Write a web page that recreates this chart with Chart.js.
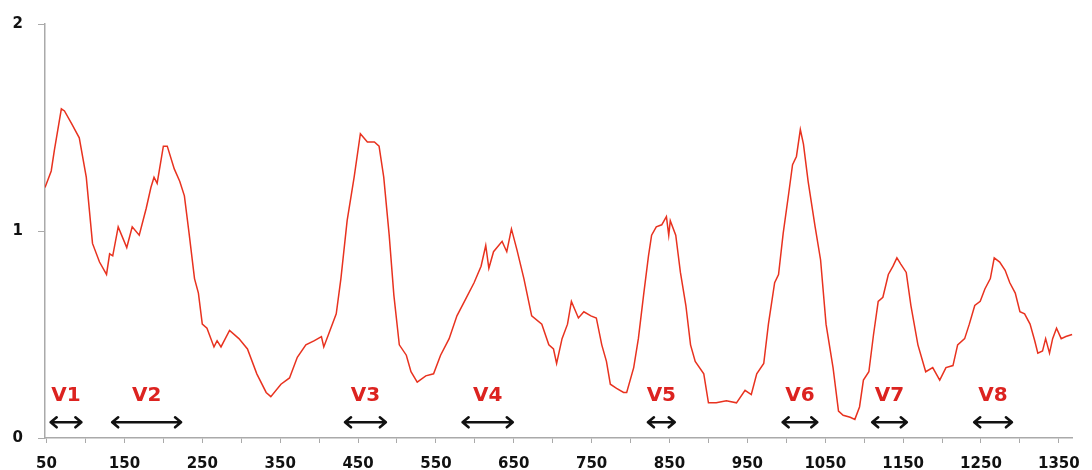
<!DOCTYPE html>
<html>
<head>
<meta charset="utf-8">
<script src="https://cdn.jsdelivr.net/npm/chart.js@4"></script>
<style>
body{margin:0;background:#fff}
#wrap{width:1092px;height:470px}
</style>
</head>
<body>
<div id="wrap"><canvas id="chart1"></canvas></div>
<script>
/* DATA */
const xs=[48,56,60,69,73,82,92,101,109,118,127,131,135,142,153,160,169,178,184,188,192,200,205,214,221,227,233,240,245,250,256,265,269,274,285,297,308,320,332,338,351,362,372,383,394,403,406,413,422,428,436,445,453,462,471,477,483,490,496,503,512,518,526,537,547,556,567,577,588,599,608,614,618,624,635,641,647,654,663,673,686,695,701,705,712,719,724,733,740,749,756,763,769,774,782,791,795,804,810,817,823,827,833,840,846,849,851,858,864,871,877,883,894,900,910,923,936,947,955,962,971,977,985,990,996,1003,1008,1013,1018,1022,1028,1037,1044,1051,1060,1067,1073,1082,1088,1094,1099,1106,1112,1118,1124,1131,1137,1142,1147,1154,1160,1169,1179,1188,1197,1205,1214,1220,1229,1235,1242,1249,1255,1262,1267,1274,1281,1287,1294,1300,1306,1313,1319,1323,1329,1333,1338,1342,1347,1353,1359,1367];
const ys=[1.21,1.29,1.39,1.59,1.58,1.52,1.45,1.26,0.94,0.85,0.79,0.89,0.88,1.02,0.92,1.02,0.98,1.11,1.21,1.26,1.23,1.41,1.41,1.30,1.24,1.17,0.99,0.77,0.70,0.55,0.53,0.44,0.47,0.44,0.52,0.48,0.43,0.31,0.22,0.20,0.26,0.29,0.39,0.45,0.47,0.49,0.44,0.51,0.60,0.77,1.05,1.26,1.47,1.43,1.43,1.41,1.26,0.98,0.69,0.45,0.40,0.32,0.27,0.30,0.31,0.40,0.48,0.59,0.67,0.75,0.83,0.93,0.82,0.90,0.95,0.90,1.01,0.91,0.77,0.59,0.55,0.45,0.43,0.36,0.48,0.55,0.66,0.58,0.61,0.59,0.58,0.45,0.37,0.26,0.24,0.22,0.22,0.34,0.48,0.70,0.88,0.98,1.02,1.03,1.07,0.98,1.05,0.98,0.80,0.64,0.45,0.37,0.31,0.17,0.17,0.18,0.17,0.23,0.21,0.31,0.36,0.55,0.75,0.79,0.99,1.18,1.32,1.36,1.49,1.42,1.24,1.02,0.86,0.55,0.34,0.13,0.11,0.10,0.09,0.15,0.28,0.32,0.50,0.66,0.68,0.79,0.83,0.87,0.84,0.80,0.64,0.45,0.32,0.34,0.28,0.34,0.35,0.45,0.48,0.55,0.64,0.66,0.72,0.77,0.87,0.85,0.81,0.75,0.70,0.61,0.60,0.55,0.47,0.41,0.42,0.48,0.41,0.48,0.53,0.48,0.49,0.50];

const xTicks=[50,100,150,200,250,300,350,400,450,500,550,600,650,700,750,800,850,900,950,1000,1050,1100,1150,1200,1250,1300,1350];
const xLabels=["50","","150","","250","","350","","450","","550","","650","","750","","850","","950","","1050","","1150","","1250","","1350"];
const yTicks=[0,1,2];

const vNames=["V1","V2","V3","V4","V5","V6","V7","V8"];
const vFrom=[54,133,432,583,821,994,1109,1240];
const vTo=[96,224,487,650,858,1041,1156,1291];

/* ANNOTATIONS */
const vMarks={
  id:"vMarks",
  afterDatasetsDraw(c){
    const ctx=c.ctx,sx=c.scales.x,sy=c.scales.y;
    const ay=sy.getPixelForValue(0.076),ty=sy.getPixelForValue(0.205);
    ctx.save();
    vNames.forEach((n,i)=>{
      const a=sx.getPixelForValue(vFrom[i]),b=sx.getPixelForValue(vTo[i]);
      ctx.fillStyle="#dc2320";
      ctx.font="bold 20px 'DejaVu Sans'";
      ctx.textAlign="center";ctx.textBaseline="middle";
      ctx.fillText(n,(a+b)/2,ty);
      ctx.strokeStyle="#111";ctx.lineWidth=2.6;ctx.lineCap="round";ctx.lineJoin="round";
      ctx.beginPath();
      ctx.moveTo(a+1,ay);ctx.lineTo(b-1,ay);
      ctx.moveTo(a+7,ay-5);ctx.lineTo(a+1,ay);ctx.lineTo(a+7,ay+5);
      ctx.moveTo(b-7,ay-5);ctx.lineTo(b-1,ay);ctx.lineTo(b-7,ay+5);
      ctx.stroke();
    });
    ctx.restore();
  }
};

/* CHART */
new Chart(chart1,{
  type:"line",
  data:{
    datasets:[{
      data:xs.map((x,i)=>({x:x,y:ys[i]})),
      borderColor:"#e8321f",
      borderWidth:1.5,
      pointRadius:0,
      tension:0,
      fill:false
    }]
  },
  options:{
    responsive:true,
    maintainAspectRatio:false,
    animation:false,
    events:[],
    layout:{padding:{top:18,right:19,left:0,bottom:0}},
    plugins:{legend:{display:false},tooltip:{enabled:false}},
    scales:{
      x:{
        type:"linear",min:48,max:1368,
        afterBuildTicks:s=>{s.ticks=xTicks.map(v=>({value:v}))},
        afterFit:s=>{s.height=32},
        ticks:{
          callback:(v)=>xLabels[xTicks.indexOf(v)],
          autoSkip:false,maxRotation:0,padding:12,
          color:"#111",font:{family:"DejaVu Sans",weight:"bold",size:15}
        },
        grid:{drawOnChartArea:false,tickLength:5,color:"#aaa"},
        border:{color:"#aaa",width:1.5}
      },
      y:{
        min:0,max:2,
        afterBuildTicks:s=>{s.ticks=yTicks.map(v=>({value:v}))},
        afterFit:s=>{s.width=45},
        ticks:{
          padding:15,color:"#111",
          font:{family:"DejaVu Sans",weight:"bold",size:15}
        },
        grid:{drawOnChartArea:false,tickLength:7,color:"#aaa"},
        border:{color:"#aaa",width:1.5}
      }
    }
  },
  plugins:[vMarks]
});
</script>
</body>
</html>
